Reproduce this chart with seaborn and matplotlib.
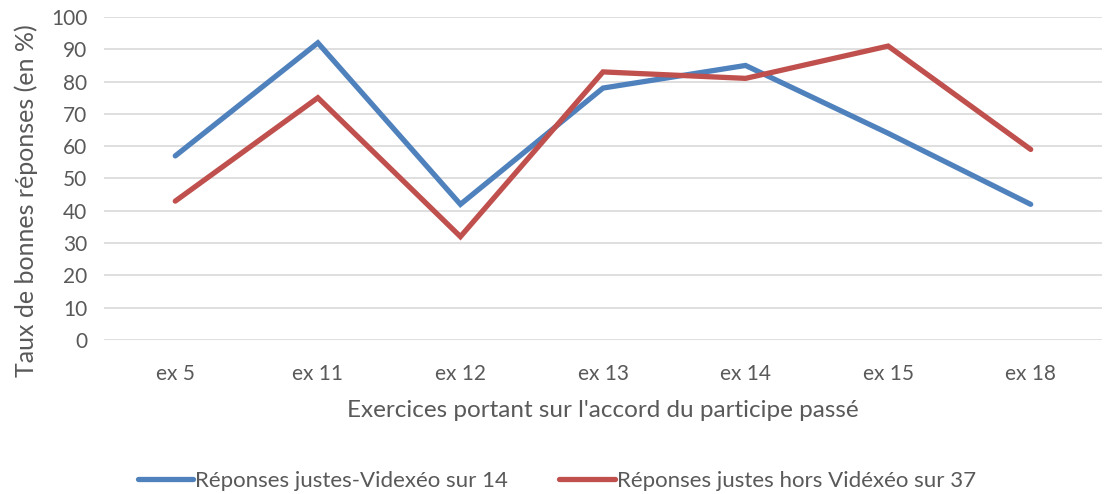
import matplotlib
matplotlib.use("Agg")
import matplotlib.pyplot as plt
import seaborn as sns
import pandas as pd

categories = ["ex 5", "ex 11", "ex 12", "ex 13", "ex 14", "ex 15", "ex 18"]
video = [57, 92, 42, 78, 85, 64, 42]
hors_video = [43, 75, 32, 83, 81, 91, 59]
series_names = ["Réponses justes-Videxéo sur 14", "Réponses justes hors Vidéxéo sur 37"]
yticks = list(range(0, 101, 10))

sns.set_theme(style="white")
plt.rcParams['font.family'] = ['Lato', 'DejaVu Sans']

df = pd.DataFrame({
    "cat": categories * 2,
    "val": video + hors_video,
    "serie": [series_names[0]] * len(categories) + [series_names[1]] * len(categories),
})

fig = plt.figure(figsize=(11.08, 4.94), dpi=100)
ax = fig.add_axes([104/1108, 1 - 340/494, (1102-104)/1108, (340-17)/494])

sns.lineplot(data=df, x="cat", y="val", hue="serie", sort=False,
             palette=["#4F81BD", "#C0504D"], linewidth=3.8, ax=ax, legend=True)
for l in ax.lines:
    l.set_solid_capstyle("round")
    l.set_solid_joinstyle("miter")

ax.set_ylim(0, 100)
ax.set_xlim(-0.5, len(categories) - 0.5)
ax.set_yticks(yticks)
ax.grid(axis="y", color="#D9D9D9", linewidth=1.2)
ax.set_axisbelow(True)
for s in ax.spines.values():
    s.set_visible(False)
ax.tick_params(axis="both", length=0, colors="#595959", labelsize=15)
ax.tick_params(axis="x", pad=17)
ax.tick_params(axis="y", pad=12)
ax.set_xlabel("Exercices portant sur l'accord du participe passé", color="#595959", fontsize=17.5, labelpad=12)
ax.set_ylabel("Taux de bonnes réponses (en %)", color="#595959", fontsize=18)
ax.yaxis.set_label_coords(-0.066, 0.43)

h, lab = ax.get_legend_handles_labels()
ax.get_legend().remove()
fig.legend(h, lab, loc="center", bbox_to_anchor=(557/1108, 1 - 481/494), ncol=2, frameon=False,
           fontsize=16, labelcolor="#595959", handlelength=2.5, handletextpad=0.1,
           columnspacing=2.3)

fig.savefig("out.png", dpi=100)
